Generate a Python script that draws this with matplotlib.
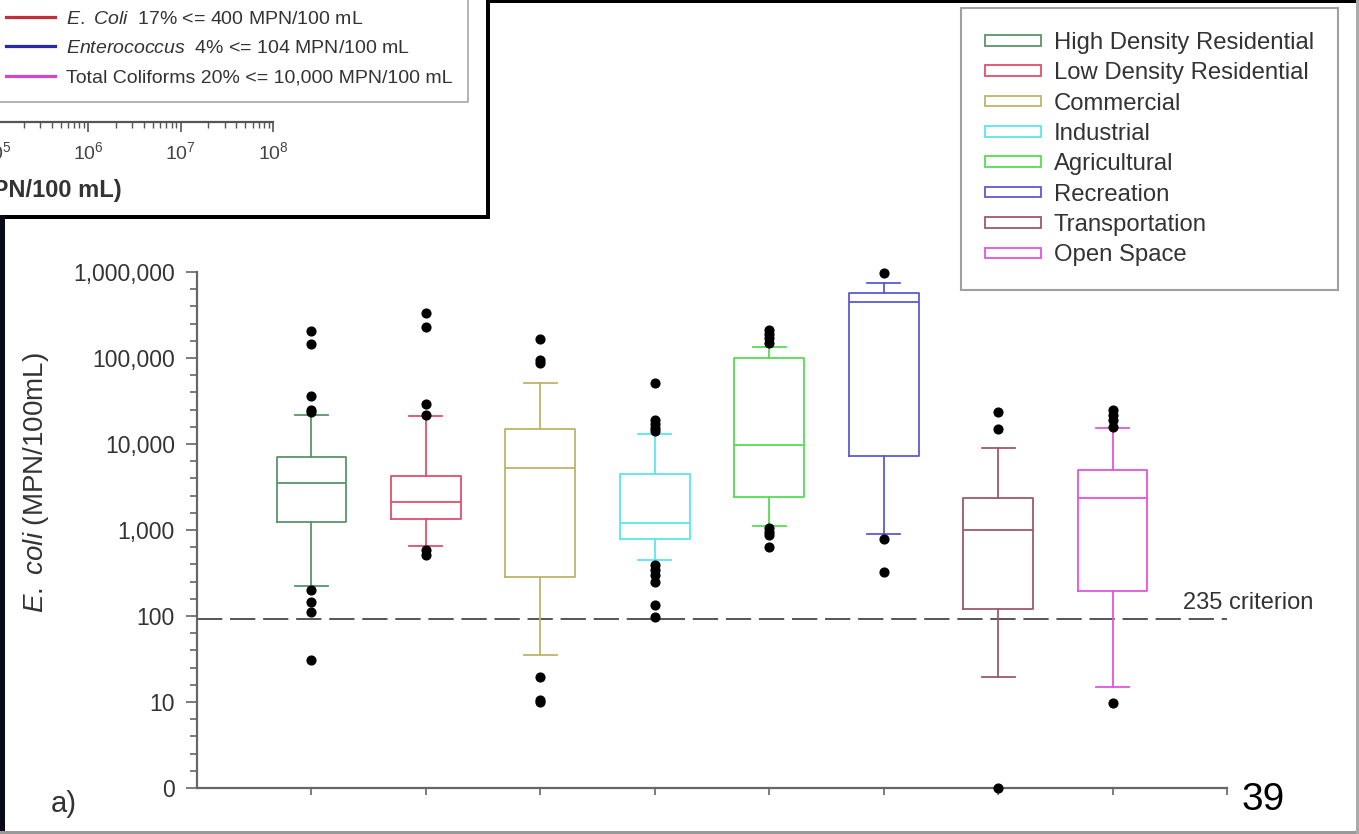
import numpy as np
import matplotlib.pyplot as plt
from matplotlib.patches import Patch, Rectangle
from matplotlib.lines import Line2D
from matplotlib.ticker import FixedLocator, FixedFormatter, NullFormatter

plt.rcParams['font.family'] = ['Liberation Sans', 'DejaVu Sans']
plt.rcParams['mathtext.fontset'] = 'custom'
plt.rcParams['mathtext.rm'] = 'Liberation Sans'
plt.rcParams['mathtext.it'] = 'Liberation Sans:italic'
plt.rcParams['mathtext.bf'] = 'Liberation Sans:bold'

# land use box plot data (E. coli, MPN/100mL)
land_uses = ["High Density Residential", "Low Density Residential", "Commercial",
             "Industrial", "Agricultural", "Recreation", "Transportation", "Open Space"]
box_colors = ["#5a9468", "#e0506a", "#bdb46a", "#5ce6ea",
              "#55dd55", "#5a5ad8", "#9c5a68", "#e055e0"]
q1 = [1230, 1330, 282, 790, 2440, 7300, 121, 195]
median = [3500, 2140, 5200, 1220, 9700, 445000, 1000, 2340]
q3 = [7100, 4250, 14800, 4480, 99000, 576000, 2340, 4990]
whisker_lo = [225, 651, 35, 446, 1110, 893, 19.7, 15]
whisker_hi = [21700, 21300, 50800, 13000, 135000, 740000, 8900, 15200]
outliers = [
    [206000, 145000, 36000, 25000, 23500, 200, 147, 110, 31],
    [331000, 228000, 29000, 22000, 585, 512],
    [165000, 95000, 87000, 19.7, 10.5, 10],
    [50800, 19000, 17000, 15500, 14000, 392, 343, 300, 246, 134, 98],
    [212000, 190000, 170000, 150000, 1050, 950, 880, 640],
    [980000, 796, 327],
    [23800, 14900, 1],
    [25000, 21700, 19000, 15900, 9.8],
]
criterion = 92

# top-left inset (piece of another chart)
inset_labels = [r"$\it{E.\ Coli}$  17% <= 400 MPN/100 mL",
                r"$\it{Enterococcus}$  4% <= 104 MPN/100 mL",
                "Total Coliforms 20% <= 10,000 MPN/100 mL"]
inset_colors = ["#c0303a", "#2a2aa8", "#d048c8"]
inset_decades = [5, 6, 7, 8]

W, H = 1359, 834
fig = plt.figure(figsize=(W / 100, H / 100), dpi=100)
fig.patch.set_facecolor("white")


def px(x0, y0, x1, y1):
    return [x0 / W, 1 - y1 / H, (x1 - x0) / W, (y1 - y0) / H]


ax = fig.add_axes(px(197, 272, 1227, 788))
stats = []
for i in range(len(land_uses)):
    stats.append(dict(med=median[i], q1=q1[i], q3=q3[i], whislo=whisker_lo[i],
                      whishi=whisker_hi[i], fliers=outliers[i]))
bp = ax.bxp(stats, positions=range(1, len(land_uses) + 1), widths=0.61,
            capwidths=0.29, showfliers=True, patch_artist=False)
for i, c in enumerate(box_colors):
    bp['boxes'][i].set(color=c, linewidth=1.3)
    bp['medians'][i].set(color=c, linewidth=1.3)
    for art in bp['whiskers'][2 * i:2 * i + 2] + bp['caps'][2 * i:2 * i + 2]:
        art.set(color=c, linewidth=1.3)
    bp['fliers'][i].set(marker='o', markerfacecolor='black', markeredgecolor='black',
                        markersize=6.3, clip_on=False, zorder=5)

ax.axhline(criterion, color="#555555", lw=1.4, linestyle=(0, (13, 4)), zorder=1)
ax.annotate("235 criterion", xy=(1, criterion), xycoords=('axes fraction', 'data'),
            xytext=(-31.7, 4), textcoords='offset points', ha='left', va='bottom',
            fontsize=17, color="#333333")

ax.set_yscale('log')
ax.set_ylim(1, 1e6)
ax.set_xlim(0, 9)
ax.yaxis.set_major_locator(FixedLocator([1, 10, 100, 1e3, 1e4, 1e5, 1e6]))
ax.yaxis.set_major_formatter(FixedFormatter(["0", "10", "100", "1,000", "10,000",
                                             "100,000", "1,000,000"]))
ax.yaxis.set_minor_locator(FixedLocator([10 ** (d + f) for d in range(6)
                                         for f in (0.2, 0.4, 0.6, 0.8)]))
ax.yaxis.set_minor_formatter(NullFormatter())
ax.set_xticks(range(1, 10))
ax.set_xticklabels([])
ax.tick_params(axis='y', which='major', length=8, width=1.2, color="#666666",
               labelsize=16.5, labelcolor="#333333", pad=8)
ax.tick_params(axis='y', which='minor', length=5, width=1.2, color="#666666")
ax.tick_params(axis='x', length=5, width=1.2, color="#666666")
for s in ('top', 'right'):
    ax.spines[s].set_visible(False)
for s in ('left', 'bottom'):
    ax.spines[s].set_color("#666666")
    ax.spines[s].set_linewidth(1.6)
ax.set_ylabel(r"$\it{E.\ coli}$ (MPN/100mL)", fontsize=20, color="#333333")
ax.yaxis.set_label_coords((51 - 197) / 1030, (788 - 483) / 516)

handles = [Patch(facecolor='white', edgecolor=c, linewidth=1.3) for c in box_colors]
leg = fig.legend(handles, land_uses, loc='upper left', bbox_to_anchor=(961 / W, 1 - 8 / H),
                 fontsize=17.2, frameon=True, fancybox=False, edgecolor="#888888",
                 handlelength=2.34, handleheight=0.3, handletextpad=0.55,
                 labelspacing=0.35, borderpad=1.0, borderaxespad=0)
leg.get_frame().set_linewidth(1.5)
for t in leg.get_texts():
    t.set_color("#333333")

fig.text(64 / W, 1 - 804 / H, "a)", fontsize=21, color="#333333", ha='center', va='center')
fig.text(1242 / W, 1 - 810 / H, "39", fontsize=28, color="black", ha='left', va='baseline')

# inset from the previous slide
ax2 = fig.add_axes(px(-50, 92, 273, 122))
ax2.set_facecolor('none')
ax2.set_xscale('log')
ax2.set_xlim(10 ** 4.5, 1e8)
ax2.set_yticks([])
for s in ('top', 'right', 'left'):
    ax2.spines[s].set_visible(False)
ax2.spines['bottom'].set_color("#555555")
ax2.spines['bottom'].set_linewidth(1.6)
ax2.xaxis.set_major_locator(FixedLocator([10.0 ** k for k in inset_decades]))
ax2.xaxis.set_major_formatter(FixedFormatter([r"$10^{%d}$" % k for k in inset_decades]))
ax2.xaxis.set_minor_locator(FixedLocator([m * 10.0 ** k for k in range(4, 8)
                                          for m in range(2, 10)]))
ax2.xaxis.set_minor_formatter(NullFormatter())
ax2.tick_params(axis='x', which='major', length=7, width=1.2, color="#555555",
                labelsize=14, labelcolor="#444444", pad=7)
ax2.tick_params(axis='x', which='minor', length=4, width=1.0, color="#555555")
fig.text(122 / W, 1 - 190 / H, "(MPN/100 mL)", fontsize=17, fontweight='bold',
         color="#333333", ha='right', va='center')

inset_handles = [Line2D([], [], color=c, lw=2.3) for c in inset_colors]
leg2 = fig.legend(inset_handles, inset_labels, loc='lower right',
                  bbox_to_anchor=(468 / W, 1 - 102 / H), fontsize=14, frameon=True,
                  fancybox=False, edgecolor="#999999", handlelength=2.55,
                  handletextpad=0.55, labelspacing=0.6, borderpad=0.8, borderaxespad=0)
leg2.get_frame().set_linewidth(1.3)
for t in leg2.get_texts():
    t.set_color("#333333")

# slide borders
for (x0, y0, x1, y1, c) in [(488, 0, 1359, 3, "black"), (486, 0, 490, 219, "black"),
                            (0, 215, 490, 219, "black"), (0, 215, 5, 834, "#0a0a18"),
                            (0, 831, 1359, 834, "#999999"), (1356, 0, 1359, 834, "#aaaaaa")]:
    fig.add_artist(Rectangle((x0 / W, 1 - y1 / H), (x1 - x0) / W, (y1 - y0) / H,
                             transform=fig.transFigure, facecolor=c, edgecolor='none',
                             zorder=10))

fig.savefig("out.png", dpi=100)
